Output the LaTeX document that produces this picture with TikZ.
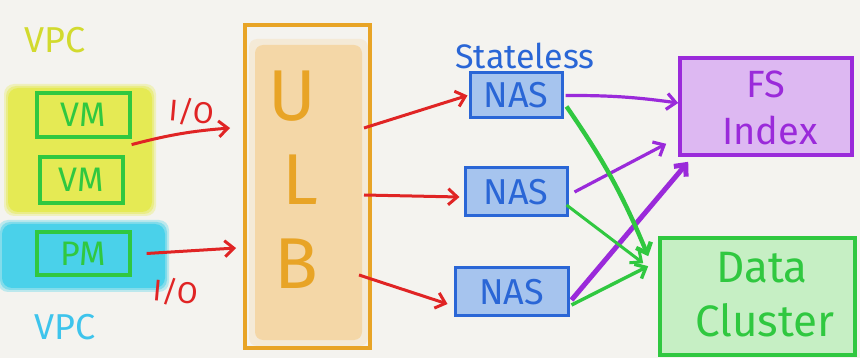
\documentclass[tikz,border=0pt]{standalone}
\usepackage{fontspec}
\setmainfont{Fira Sans}
\usetikzlibrary{arrows.meta}
\definecolor{bg}{HTML}{F4F3EF}
\definecolor{yel}{HTML}{E4EA48}
\definecolor{yeltext}{HTML}{D2DA2E}
\definecolor{cya}{HTML}{3CCFEA}
\definecolor{cyatext}{HTML}{3EC4EC}
\definecolor{grn}{HTML}{30C840}
\definecolor{grnfill}{HTML}{C6EFC4}
\definecolor{rd}{HTML}{E02424}
\definecolor{org}{HTML}{E8A426}
\definecolor{orgfill}{HTML}{F5D6A2}
\definecolor{blu}{HTML}{2A66D6}
\definecolor{blufill}{HTML}{A6C4EE}
\definecolor{pur}{HTML}{9A2ADA}
\definecolor{purfill}{HTML}{DDB8F2}
\tikzset{
  hostbox/.style={draw=grn, line width=3.2pt, inner sep=0pt, text=grn, font=\fontsize{34}{34}\selectfont},
  nasbox/.style={draw=blu, line width=3pt, fill=blufill, inner sep=0pt, text=blu, font=\fontsize{36}{36}\selectfont},
  redarrow/.style={draw=rd, line width=3pt, -{Straight Barb[length=9pt,width=16pt]}},
  purarrow/.style={draw=pur, line width=3.2pt, -{Straight Barb[length=9pt,width=16pt]}},
  grnarrow/.style={draw=grn, line width=3pt, -{Straight Barb[length=9pt,width=16pt]}},
  iolabel/.style={text=rd, font=\fontsize{30}{30}\selectfont},
}
\begin{document}
\begin{tikzpicture}[x=1pt,y=-1pt]
\useasboundingbox[fill=bg] (0,0) rectangle (860,358);
% soft blobs
\foreach \d/\o in {4/0.3,2/0.45,0/0.8}{
  \fill[yel, opacity=\o, rounded corners=10pt] (8-\d,88-\d) rectangle (152+\d,212+\d);
  \fill[cya, opacity=\o, rounded corners=10pt] (2-\d,224-\d) rectangle (165+\d,288+\d);
}
\node[text=yeltext, font=\fontsize{36}{36}\selectfont] (vpc1) at (55,40) {VPC};
\node[text=cyatext, font=\fontsize{36}{36}\selectfont] (vpc2) at (65,327) {VPC};
\node[hostbox, minimum width=93pt, minimum height=44pt] (vm1) at (83.5,115) {VM};
\node[hostbox, minimum width=83pt, minimum height=46pt] (vm2) at (81.5,180) {VM};
\node[hostbox, minimum width=93pt, minimum height=43pt] (pm) at (83.5,253.5) {PM};
\node[iolabel, rotate=-5] (io1) at (192,112) {I/O};
\node[iolabel, rotate=-5] (io2) at (176,292) {I/O};
% ULB
\foreach \d/\o in {6/0.3,0/0.9}{
  \fill[orgfill, opacity=\o, rounded corners=8pt] (255-\d,45-\d) rectangle (362+\d,340+\d);
}
\node[draw=org, line width=4pt, minimum width=125pt, minimum height=323pt, inner sep=0pt] (ulb) at (307.5,186.5) {};
\node[text=org, font=\fontsize{72}{72}\selectfont] (lu) at (292,96) {U};
\node[text=org, font=\fontsize{72}{72}\selectfont] (ll) at (300,180) {L};
\node[text=org, font=\fontsize{72}{72}\selectfont] (lb) at (296,264) {B};
% NAS
\node[text=blu, font=\fontsize{34}{34}\selectfont] (stl) at (525,56) {Stateless};
\node[nasbox, minimum width=92pt, minimum height=45pt] (nas1) at (516,95.5) {NAS};
\node[nasbox, minimum width=102pt, minimum height=48pt] (nas2) at (516,192) {NAS};
\node[nasbox, minimum width=113pt, minimum height=48pt] (nas3) at (511.5,292) {NAS};
% FS Index
\node[draw=pur, line width=3.6pt, fill=purfill, minimum width=172pt, minimum height=97pt, inner sep=0pt] (fs) at (766,106.5) {};
\node[text=pur, font=\fontsize{38}{38}\selectfont] (fst) at (766,84) {FS};
\node[text=pur, font=\fontsize{38}{38}\selectfont] (fsi) at (770,130) {Index};
% Data Cluster
\node[draw=grn, line width=3.6pt, fill=grnfill, minimum width=195pt, minimum height=117pt, inner sep=0pt] (dc) at (757.5,296.5) {};
\node[text=grn, font=\fontsize{44}{44}\selectfont] (dct) at (762,268) {Data};
\node[text=grn, font=\fontsize{44}{44}\selectfont] (dcc) at (765,320) {Cluster};
% arrows into ULB
\draw[redarrow] ([yshift=-6pt]vm1.south east) to[bend left=5] ([xshift=-13pt,yshift=58.5pt]ulb.west);
\draw[redarrow] ([xshift=15pt]pm.east) -- ([xshift=-7pt,yshift=-61.5pt]ulb.west);
% ULB to NAS
\draw[redarrow] ([xshift=-8pt,yshift=58.5pt]ulb.east) -- ([xshift=-1pt]nas1.west);
\draw[redarrow] ([xshift=-8pt,yshift=-8.5pt]ulb.east) -- ([xshift=-4pt,yshift=-5pt]nas2.west);
\draw[redarrow] ([xshift=-13pt,yshift=-88.5pt]ulb.east) -- ([xshift=-6pt,yshift=-12pt]nas3.west);
% purple
\draw[purarrow] ([xshift=2pt]nas1.east) to[bend left=4] ([yshift=3.5pt]fs.west);
\draw[purarrow] ([xshift=6pt]nas2.east) -- ([xshift=-12pt,yshift=13pt]fs.south west);
\draw[purarrow, line width=5pt] ([xshift=2pt,yshift=-8pt]nas3.east) -- ([xshift=10pt,yshift=-5pt]fs.south west);
% green
\draw[grnarrow, line width=4.4pt] ([xshift=3pt,yshift=-11pt]nas1.east) to[bend left=6] ([xshift=-10pt,yshift=-20pt]dc.north west);
\draw[grnarrow] ([xshift=-2pt,yshift=-13pt]nas2.east) -- ([xshift=-15pt,yshift=-27pt]dc.north west);
\draw[grnarrow, line width=3.4pt] ([xshift=2pt,yshift=-13pt]nas3.east) -- ([xshift=-10pt,yshift=-30pt]dc.north west);
\end{tikzpicture}
\end{document}
